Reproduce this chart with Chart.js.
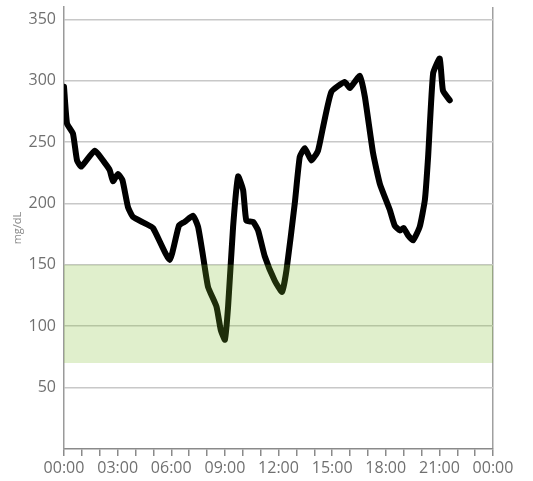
<!DOCTYPE html>
<html lang="en">
<head>
    <meta charset="UTF-8">
    <title>Glucose - mg/dL</title>
    <script src="https://cdn.jsdelivr.net/npm/chart.js"></script>
    <style>
        html, body { margin: 0; padding: 0; background: #fff; }
        #wrap { width: 533px; height: 481px; }
    </style>
</head>
<body>
    <div id="wrap"><canvas id="glucoseChart"></canvas></div>
    <script>
        // readings: hour of day -> mg/dL
        const hours = [0, 0.17, 0.5, 0.73, 0.97, 1.72, 2.28, 2.56, 2.74, 3.02, 3.27, 3.58, 3.86, 4.5, 4.98, 5.91,
            6.43, 6.75, 7.22, 7.5, 7.78, 8.06, 8.53, 8.77, 9.0, 9.18, 9.46, 9.74, 10.02, 10.2, 10.58, 10.86,
            11.23, 11.79, 12.2, 12.45, 12.91, 13.19, 13.47, 13.84, 14.21, 14.49, 14.96, 15.71, 15.99, 16.55,
            16.83, 17.29, 17.67, 18.22, 18.5, 18.8, 19.0, 19.25, 19.53, 19.9, 20.19, 20.37, 20.65, 21.02, 21.2, 21.58];
        const glucose = [295, 265, 257, 235, 230, 243, 233, 227, 218, 224, 219, 197, 189, 184, 180, 154,
            182, 185, 190, 181, 157, 132, 116, 97, 89, 116, 181, 222, 211, 186, 185, 178,
            157, 137, 128, 146, 200, 238, 245, 235, 243, 262, 291, 299, 294, 304,
            287, 241, 216, 195, 182, 178, 180, 174, 170, 181, 203, 238, 306, 318, 292, 284];

        // target range
        const rangeLow = 70;
        const rangeHigh = 150;
        const dayHours = [0, 24];

        const yTicks = [50, 100, 150, 200, 250, 300, 350];

        const fontFamily = '"Open Sans", "Noto Sans", sans-serif';

        function hourLabel(h) {
            const hh = h % 24;
            return (hh < 10 ? '0' : '') + hh + ':00';
        }

        new Chart(document.getElementById('glucoseChart'), {
            type: 'line',
            data: {
                datasets: [
                    {
                        // top of target band
                        data: dayHours.map(h => ({ x: h, y: rangeHigh })),
                        borderWidth: 0,
                        pointRadius: 0,
                        fill: false,
                        order: 0
                    },
                    {
                        // bottom of target band, filled up to the top one
                        data: dayHours.map(h => ({ x: h, y: rangeLow })),
                        borderWidth: 0,
                        pointRadius: 0,
                        fill: '-1',
                        backgroundColor: 'rgba(125, 187, 42, 0.24)',
                        order: 0
                    },
                    {
                        label: 'mg/dL',
                        data: hours.map((h, i) => ({ x: h, y: glucose[i] })),
                        borderColor: '#000',
                        borderWidth: 6,
                        pointRadius: 0,
                        tension: 0.15,
                        borderJoinStyle: 'round',
                        borderCapStyle: 'round',
                        fill: false,
                        order: 1
                    }
                ]
            },
            options: {
                responsive: true,
                maintainAspectRatio: false,
                animation: false,
                layout: { padding: { top: 7, right: 40, bottom: 0, left: 0 } },
                plugins: {
                    legend: { display: false },
                    tooltip: { enabled: false }
                },
                scales: {
                    x: {
                        type: 'linear',
                        min: 0,
                        max: 24,
                        afterFit: scale => { scale.height = 32; },
                        border: { color: '#8a8a8a', width: 1.5 },
                        grid: {
                            color: ctx => (ctx.tick && ctx.tick.value === 24) ? '#a0a0a0' : 'rgba(0,0,0,0)',
                            tickColor: '#8a8a8a',
                            lineWidth: 1.5,
                            tickLength: 7
                        },
                        ticks: {
                            stepSize: 1,
                            autoSkip: false,
                            maxRotation: 0,
                            padding: 3,
                            color: '#707070',
                            font: { family: fontFamily, size: 16 },
                            callback: v => (v % 3 === 0 ? hourLabel(v) : '')
                        }
                    },
                    y: {
                        min: 0,
                        max: 360,
                        afterFit: scale => {
                            scale.width = 64;
                            scale.paddingTop = 0;
                            scale.paddingBottom = 0;
                        },
                        afterBuildTicks: scale => { scale.ticks = yTicks.map(v => ({ value: v })); },
                        border: { color: '#9a9a9a', width: 1.5 },
                        grid: {
                            color: '#c8c8c8',
                            lineWidth: 1.5,
                            drawTicks: false
                        },
                        ticks: {
                            padding: 8,
                            color: '#707070',
                            font: { family: fontFamily, size: 16 }
                        },
                        title: {
                            display: true,
                            text: 'mg/dL',
                            color: '#8a8a8a',
                            padding: { top: 11, bottom: 4 },
                            font: { family: fontFamily, size: 11 }
                        }
                    }
                }
            }
        });
    </script>
</body>
</html>
